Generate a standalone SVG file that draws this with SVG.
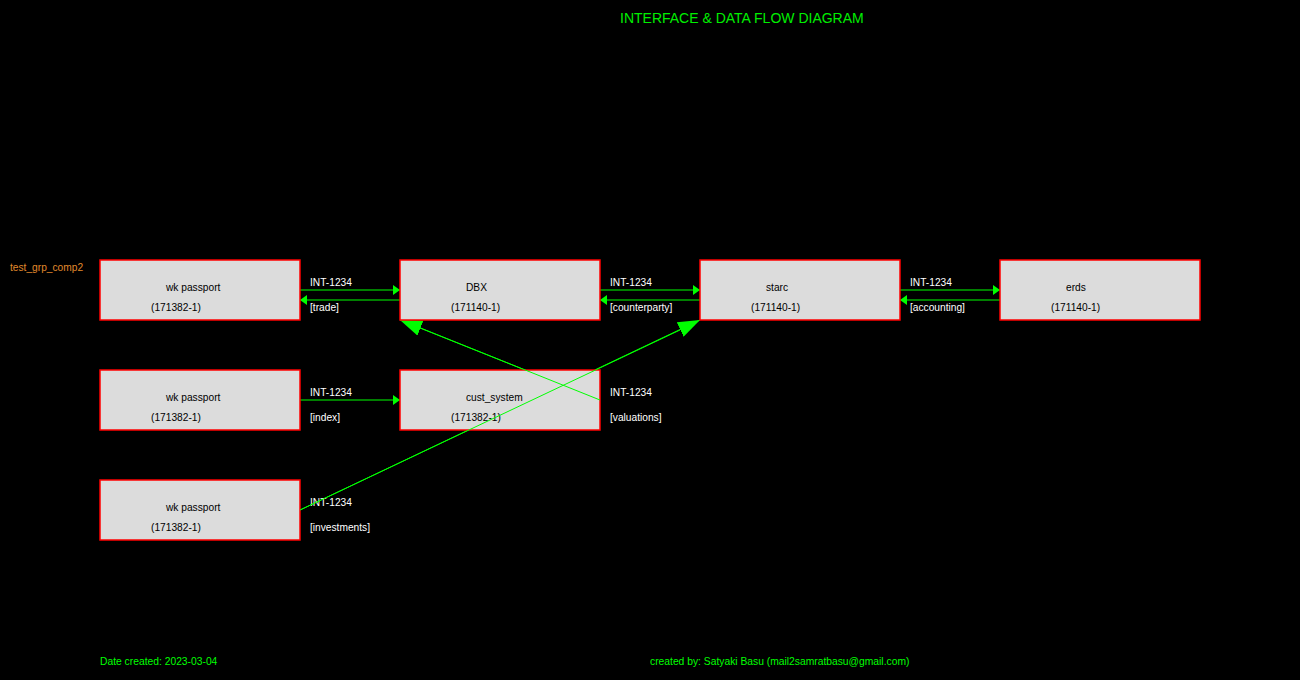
<svg xmlns="http://www.w3.org/2000/svg" width="1300" height="680" viewBox="0 0 1300 680">
<style>
.box{fill:#dcdcdc;stroke:#ff0000;stroke-width:1.5}
.nt{font-family:"Liberation Sans",Arial,sans-serif;font-size:10.2px;fill:#000}
.lb{font-family:"Liberation Sans",Arial,sans-serif;font-size:10.2px;fill:#fff}
.ln{stroke:#00ff00;stroke-width:1.2;fill:none}
.dg{stroke:#00ff00;stroke-width:1;fill:none}
.gr{font-family:"Liberation Sans",Arial,sans-serif;font-size:10.2px;fill:#e08a2c}
.ft{font-family:"Liberation Sans",Arial,sans-serif;font-size:10.3px;fill:#00ff00}
.tt{font-family:"Liberation Sans",Arial,sans-serif;font-size:14px;fill:#00ee00}
</style>
<defs>
<marker id="sm" markerWidth="7" markerHeight="10" refX="7" refY="5" orient="auto" markerUnits="userSpaceOnUse"><path d="M0,0 L7,5 L0,10 Z" fill="#00ff00"/></marker>
<marker id="bg" markerWidth="22" markerHeight="16" refX="22" refY="8" orient="auto" markerUnits="userSpaceOnUse"><path d="M0,0 L22,8 L0,16 Z" fill="#00ff00"/></marker>
</defs>
<rect x="0" y="0" width="1300" height="680" fill="#000"/>
<text class="tt" x="620" y="23">INTERFACE &amp; DATA FLOW DIAGRAM</text>
<text class="gr" x="10" y="271">test_grp_comp2</text>
<g id="connectors">
<line class="ln" x1="300" y1="290" x2="400" y2="290" marker-end="url(#sm)"/>
<line class="ln" x1="400" y1="300" x2="300" y2="300" marker-end="url(#sm)"/>
<line class="ln" x1="600" y1="290" x2="700" y2="290" marker-end="url(#sm)"/>
<line class="ln" x1="700" y1="300" x2="600" y2="300" marker-end="url(#sm)"/>
<line class="ln" x1="900" y1="290" x2="1000" y2="290" marker-end="url(#sm)"/>
<line class="ln" x1="1000" y1="300" x2="900" y2="300" marker-end="url(#sm)"/>
<line class="ln" x1="300" y1="400" x2="400" y2="400" marker-end="url(#sm)"/>
<line class="dg" x1="600" y1="400" x2="400" y2="320" marker-end="url(#bg)"/>
<line class="dg" x1="300" y1="510" x2="700" y2="320" marker-end="url(#bg)"/>
<text class="lb" x="310" y="286">INT-1234</text>
<text class="lb" x="310" y="311">[trade]</text>
<text class="lb" x="610" y="286">INT-1234</text>
<text class="lb" x="610" y="311">[counterparty]</text>
<text class="lb" x="910" y="286">INT-1234</text>
<text class="lb" x="910" y="311">[accounting]</text>
<text class="lb" x="310" y="396">INT-1234</text>
<text class="lb" x="310" y="421">[index]</text>
<text class="lb" x="610" y="396">INT-1234</text>
<text class="lb" x="610" y="421">[valuations]</text>
<text class="lb" x="310" y="506">INT-1234</text>
<text class="lb" x="310" y="531">[investments]</text>
</g>
<g id="wk1"><rect class="box" x="100" y="260" width="200" height="60"/><text class="nt" x="166" y="291">wk passport</text><text class="nt" x="151" y="311">(171382-1)</text></g>
<g id="dbx"><rect class="box" x="400" y="260" width="200" height="60"/><text class="nt" x="466" y="291">DBX</text><text class="nt" x="451" y="311">(171140-1)</text></g>
<g id="starc"><rect class="box" x="700" y="260" width="200" height="60"/><text class="nt" x="766" y="291">starc</text><text class="nt" x="751" y="311">(171140-1)</text></g>
<g id="erds"><rect class="box" x="1000" y="260" width="200" height="60"/><text class="nt" x="1066" y="291">erds</text><text class="nt" x="1051" y="311">(171140-1)</text></g>
<g id="wk2"><rect class="box" x="100" y="370" width="200" height="60"/><text class="nt" x="166" y="401">wk passport</text><text class="nt" x="151" y="421">(171382-1)</text></g>
<g id="cust"><rect class="box" x="400" y="370" width="200" height="60"/><text class="nt" x="466" y="401">cust_system</text><text class="nt" x="451" y="421">(171382-1)</text></g>
<g id="wk3"><rect class="box" x="100" y="480" width="200" height="60"/><text class="nt" x="166" y="511">wk passport</text><text class="nt" x="151" y="531">(171382-1)</text></g>
<g id="overlay">
<line class="dg" x1="600" y1="400" x2="418" y2="327"/>
<line class="dg" x1="300" y1="510" x2="680" y2="330"/>
</g>
<text class="ft" x="100" y="665">Date created: 2023-03-04</text>
<text class="ft" x="650" y="665">created by: Satyaki Basu (mail2samratbasu@gmail.com)</text>
</svg>
